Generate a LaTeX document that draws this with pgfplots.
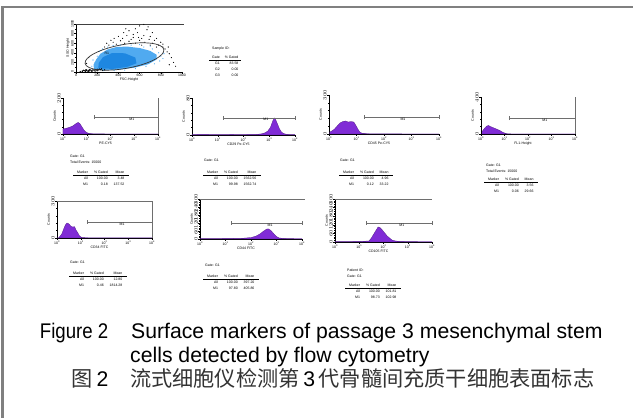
\documentclass[border=0pt]{standalone}
\usepackage{fontspec}
\setmainfont{Liberation Sans}
\newfontfamily\cjk{Noto Sans CJK SC}
\usepackage{pgfplots}
\pgfplotsset{compat=1.18}
\definecolor{hist}{RGB}{128,44,214}
\definecolor{framegray}{RGB}{128,128,128}
\definecolor{mgray}{RGB}{110,110,110}
\definecolor{lblue}{RGB}{80,170,240}
\definecolor{dblue}{RGB}{30,135,225}
\newcommand{\sm}{\fontsize{3.5}{6}\selectfont}
\tikzset{m1/.style={mgray, line width=0.45pt}}
\pgfplotsset{
  panel/.style={scale only axis, clip=false, axis lines*=left, tick align=outside,
    axis line style={line width=0.4pt}, tick style={line width=0.3pt, black},
    major tick length=1.6pt, minor tick length=0.9pt,
    ticklabel style={font=\fontsize{3.5}{4}\selectfont, inner sep=0.6pt},
    label style={font=\fontsize{3.5}{4}\selectfont, inner sep=0.6pt},
    yticklabel style={rotate=90, anchor=south}},
  hist/.style={panel, xmin=0, xmax=4, ymin=0, xtick={0,1,2,3,4},
    xticklabels={10\textsuperscript{0},10\textsuperscript{1},10\textsuperscript{2},10\textsuperscript{3},10\textsuperscript{4}},
    minor xtick={0.301,0.477,0.602,0.699,0.778,0.845,0.903,0.954,1.301,1.477,1.602,1.699,1.778,1.845,1.903,1.954,2.301,2.477,2.602,2.699,2.778,2.845,2.903,2.954,3.301,3.477,3.602,3.699,3.778,3.845,3.903,3.954},
    ylabel={Counts}, minor y tick num=4, xlabel style={xshift=-5pt}},
  hfill/.style={fill=hist, draw=hist!60!black, line width=0.25pt},
}
\newcommand{\mone}[6]{%
  \draw[m1] (axis cs:#1,#3)--(axis cs:#2,#3);
  \draw[m1] (axis cs:#1,#4)--(axis cs:#1,#5);
  \draw[m1] (axis cs:#2,#4)--(axis cs:#2,#5);
  \node[font=\fontsize{3.5}{4}\selectfont, inner sep=0.5pt, anchor=north] at (axis cs:#6,#3) {M1};}
\newcommand{\mtab}[4]{\sm\begin{tabular}{@{\hspace{4pt}}r@{\hspace{6pt}}r@{\hspace{6pt}}r@{\hspace{5pt}}}
Marker & \% Gated & Mean\\\hline
All & #1 & #2\\
M1 & #3 & #4
\end{tabular}}
\setlength{\arrayrulewidth}{0.3pt}
\begin{document}
\begin{tikzpicture}[x=1pt,y=1pt]
\path[use as bounding box] (0,0) rectangle (633,418);
\draw[framegray, line width=2.2pt] (2.5,0) -- (2.5,410.7) -- (633,410.7);

% ---------- scatter FSC/SSC ----------
\begin{axis}[panel, at={(76pt,346pt)}, anchor=south west, width=106pt, height=48pt,
  xmin=0, xmax=1000, ymin=0, ymax=1000, xtick={0,200,...,1000}, ytick={0,200,...,1000},
  xticklabels={0,200,400,600,800,1000}, yticklabels={0,200,400,600,800,1000},
  minor tick num=1, xlabel={FSC-Height}, ylabel={SSC-Height}]
\addplot[fill=lblue, draw=none] coordinates {(170,60) (260,40) (400,50) (550,90) (680,160) (760,260) (760,360) (700,440) (600,500) (480,530) (380,520) (300,470) (230,380) (190,260) (165,150)} -- cycle;
\addplot[fill=dblue, draw=none] coordinates {(210,75) (350,65) (480,105) (570,180) (560,300) (460,390) (340,395) (255,310) (215,190)} -- cycle;
\addplot[only marks, mark=*, mark size=0.3pt, lblue] coordinates {(250,480) (300,520) (350,550) (420,560) (520,560) (640,520) (720,480) (780,400) (800,330) (790,230) (740,170) (660,120) (560,70) (460,40) (360,30) (260,30) (200,100) (180,200) (200,330) (220,430) (820,280) (830,380) (700,540) (600,570) (150,120) (160,250)};
\addplot[only marks, mark=*, mark size=0.3pt, black] coordinates {(310,560) (350,620) (380,580) (420,650) (440,700) (460,600) (480,760) (500,640) (520,680) (540,720) (560,600) (580,820) (600,660) (620,700) (640,760) (650,620) (670,880) (690,680) (700,740) (720,600) (740,660) (760,700) (780,560) (800,620) (820,520) (840,480) (860,420) (880,380) (900,300) (920,200) (560,900) (600,960) (640,990) (500,860) (450,820) (400,740) (360,700) (330,660) (290,600) (270,520) (620,560) (700,560) (760,520) (820,580) (870,520) (680,940) (720,820) (540,780) (470,900) (590,720) (880,150) (940,120) (120,300) (100,180)};
\addplot[only marks, mark=*, mark size=0.4pt, black] coordinates {(40,10) (60,20) (80,25) (90,15) (100,30) (110,20) (120,35) (130,25) (140,40) (150,30) (160,45) (170,35) (180,50) (190,40) (200,55) (210,45) (220,60) (230,50) (240,65) (120,10) (150,15) (180,20) (70,35) (100,45) (130,50) (250,30) (270,45) (60,5) (90,40) (200,25)};
\draw[black!75, line width=0.6pt] (rel axis cs:0,1) -- (rel axis cs:1.02,1);
\node[font=\fontsize{3.5}{4}\selectfont] at (axis cs:290,400) {R1};
\end{axis}
\draw[black!80, line width=0.7pt, rotate around={10:(124.5,361.5)}] (124.5,361.5) ellipse [x radius=40pt, y radius=12pt];
\node[anchor=west, inner sep=0, font=\sm] at (212,369) {Sample ID:};
\node[anchor=north west, inner sep=0] at (209,364) {\sm\begin{tabular}{@{\hspace{3pt}}r@{\hspace{5pt}}r@{\hspace{3pt}}}
Gate & \% Gated\\\hline G1 & 83.58\\ G2 & 0.00\\ G3 & 0.00\end{tabular}};

% ---------- P1 PE-CY5 ----------
\begin{axis}[hist, at={(63pt,284pt)}, anchor=south west, width=95pt, height=36pt,
  ymax=200, ytick={0,200}, xlabel={PE-CY5}]
\addplot[hfill] coordinates {(0,0) (0,28) (0.1,31) (0.25,36) (0.4,44) (0.5,53) (0.58,61) (0.65,64) (0.72,56) (0.8,39) (0.9,19) (1.0,8) (1.1,3) (1.3,1) (2,0.5) (4,0.5) (4,0)} \closedcycle;
\mone{1.3}{4}{94}{83}{105}{2.9}
\draw[m1] (axis cs:4,0) -- (axis cs:4,200);
\end{axis}
\node[anchor=north west, inner sep=0] at (70,265) {\sm\begin{tabular}{@{}l@{}}Gate: G1\\Total Events: 15000\end{tabular}};
\node[anchor=north west, inner sep=0] at (73,249) {\mtab{100.00}{3.48}{0.18}{137.52}};

% ---------- P2 CD29 ----------
\begin{axis}[hist, at={(192pt,283pt)}, anchor=south west, width=103pt, height=37pt,
  ymax=80, ytick={0,80}, xlabel={CD29 Pe-CY5}]
\addplot[hfill] coordinates {(0,0) (0,1) (0.5,1.2) (1,0.8) (1.5,1.1) (2,1) (2.5,1.3) (2.7,2.5) (2.85,5) (2.95,9) (3.05,17) (3.12,28) (3.17,35) (3.2,37) (3.25,33) (3.32,24) (3.4,13) (3.48,6) (3.57,3) (3.67,1.5) (3.8,1) (4,0.8) (4,0)} \closedcycle;
\mone{1.2}{4}{37}{32.7}{41.3}{2.87}
\end{axis}
\node[anchor=north west, inner sep=0, font=\sm] at (204,259) {Gate: G1};
\node[anchor=north west, inner sep=0] at (203,249) {\mtab{100.00}{1562.56}{99.98}{1562.74}};

% ---------- P3 CD45 ----------
\begin{axis}[hist, at={(329pt,284pt)}, anchor=south west, width=110pt, height=39pt,
  ymax=300, ytick={0,300}, xlabel={CD45 Pe-CY5}]
\addplot[hfill] coordinates {(0.03,0) (0.03,15) (0.1,23) (0.2,38) (0.3,62) (0.4,85) (0.5,96) (0.6,100) (0.7,92) (0.8,96) (0.9,92) (0.97,69) (1.05,38) (1.12,15) (1.2,6) (1.4,2) (2,1) (4,0.8) (4,0)} \closedcycle;
\mone{1.27}{4}{131}{116}{146}{2.69}
\end{axis}
\node[anchor=north west, inner sep=0, font=\sm] at (340,259) {Gate: G1};
\node[anchor=north west, inner sep=0] at (339,249) {\mtab{100.00}{4.96}{0.12}{33.22}};

% ---------- P4 FL1 ----------
\begin{axis}[hist, at={(481pt,284pt)}, anchor=south west, width=94pt, height=37pt,
  ymax=400, ytick={0,400}, xlabel={FL1-Height}]
\addplot[hfill] coordinates {(0.03,0) (0.03,20) (0.1,45) (0.18,70) (0.25,86) (0.32,92) (0.4,81) (0.5,70) (0.6,60) (0.7,49) (0.8,38) (0.9,22) (1.0,11) (1.1,3) (1.3,1) (4,0.5) (4,0)} \closedcycle;
\addplot[black, line width=0.5pt] coordinates {(0.02,0) (0.02,173)};
\mone{1.19}{4}{173}{151}{195}{2.72}
\draw[m1] (axis cs:4,0) -- (axis cs:4,400);
\end{axis}
\node[anchor=north west, inner sep=0] at (486,256) {\sm\begin{tabular}{@{}l@{}}Gate: G1\\Total Events: 15000\end{tabular}};
\node[anchor=north west, inner sep=0] at (484,242) {\mtab{100.00}{3.56}{0.06}{29.66}};

% ---------- P5 CD34 ----------
\begin{axis}[hist, at={(57pt,180pt)}, anchor=south west, width=95pt, height=37pt,
  ymax=300, ytick={0,300}, xlabel={CD34 FITC}]
\addplot[hfill] coordinates {(0,0) (0,1) (0.08,1) (0.1,8) (0.2,32) (0.28,73) (0.35,105) (0.42,122) (0.5,114) (0.58,97) (0.66,89) (0.74,92) (0.8,65) (0.88,41) (0.95,16) (1.05,4) (1.3,2) (2,1.5) (3,1.5) (4,1) (4,0)} \closedcycle;
\mone{1.26}{4}{130}{114}{146}{2.74}
\draw[m1] (axis cs:4,0) -- (axis cs:4,300) -- (axis cs:0,300);
\end{axis}
\node[anchor=north west, inner sep=0, font=\sm] at (70,157) {Gate: G1};
\node[anchor=north west, inner sep=0] at (69,148) {\mtab{100.00}{12.80}{0.46}{1814.28}};

% ---------- P6 CD44 ----------
\begin{axis}[hist, at={(200pt,179pt)}, anchor=south west, width=102pt, height=40pt,
  ymax=300, ytick={0,60,...,300}, xlabel={CD44 FITC}]
\addplot[hfill] coordinates {(0,0) (0,3) (0.5,3) (1,4) (1.5,5) (1.7,6) (2.0,11) (2.2,22) (2.35,38) (2.5,60) (2.62,75) (2.7,75) (2.8,60) (2.9,38) (3.0,19) (3.1,8) (3.3,4) (3.6,3) (4,2) (4,0)} \closedcycle;
\mone{1.22}{4}{120}{105}{135}{2.75}
\draw[m1] (axis cs:0,300) -- (axis cs:4.1,300);
\end{axis}
\node[anchor=north west, inner sep=0, font=\sm] at (205,154) {Gate: G1};
\node[anchor=north west, inner sep=0] at (203,145) {\mtab{100.00}{397.20}{97.80}{405.86}};

% ---------- P7 CD105 ----------
\begin{axis}[hist, at={(335pt,176pt)}, anchor=south west, width=97pt, height=43pt,
  ymax=300, ytick={0,60,...,300}, xlabel={CD105 FITC}]
\addplot[hfill] coordinates {(0,0) (0,3) (0.5,3) (1,4) (1.4,7) (1.5,28) (1.6,56) (1.7,84) (1.78,105) (1.85,101) (1.95,84) (2.05,63) (2.15,42) (2.25,28) (2.35,14) (2.5,7) (2.7,4) (3,3) (4,2) (4,0)} \closedcycle;
\mone{1.28}{4}{133}{119}{147}{2.76}
\draw[m1] (axis cs:0,300) -- (axis cs:4,300);
\end{axis}
\node[anchor=north west, inner sep=0] at (347,151) {\sm\begin{tabular}{@{}l@{}}Patient ID:\\Gate: G1\end{tabular}};
\node[anchor=north west, inner sep=0] at (345,136) {\mtab{100.00}{101.81}{98.73}{102.98}};

% ---------- caption ----------
\begin{scope}[every node/.style={inner sep=0, font=\fontsize{21.2}{24}\selectfont}]
\node[anchor=base east, xscale=0.88] at (108.5,79) {Figure 2};
\node[anchor=base west] at (131,79) {Surface markers of passage 3 mesenchymal stem};
\node[anchor=base west] at (130,55) {cells detected by flow cytometry};
\node[anchor=base west, black!80] at (71,31) {{\cjk 图}};
\node[anchor=base east] at (108.5,31) {2};
\node[anchor=base west] at (130,31) {{\color{black!80}\cjk 流式细胞仪检测第}\,3\,{\color{black!80}\cjk 代骨髓间充质干细胞表面标志}};
\end{scope}
\end{tikzpicture}
\end{document}
